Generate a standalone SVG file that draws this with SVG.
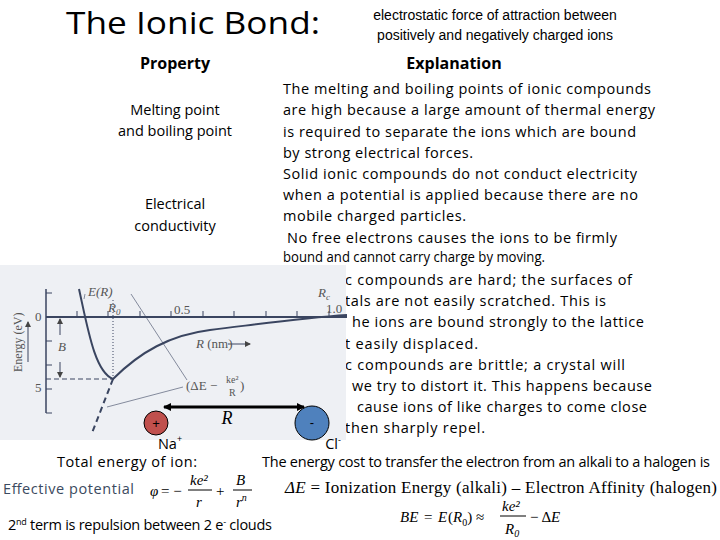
<svg xmlns="http://www.w3.org/2000/svg" width="720" height="540" viewBox="0 0 720 540">
<defs>
<marker id="ah" markerWidth="8" markerHeight="8" refX="7" refY="4" orient="auto-start-reverse" markerUnits="userSpaceOnUse"><path d="M0,0 L8,4 L0,8 z" fill="#000"/></marker>
<marker id="sa" markerWidth="6" markerHeight="6" refX="5" refY="3" orient="auto" markerUnits="userSpaceOnUse"><path d="M0,0 L6,3 L0,6 z" fill="#444"/></marker>
<style>
.b{font-family:"Open Sans","Liberation Sans",sans-serif;font-size:14.5px;fill:#000}
.h{font-family:"Open Sans","Liberation Sans",sans-serif;font-size:16px;font-weight:bold;text-anchor:middle}
.c{text-anchor:middle}
.t{font-family:"Liberation Serif",serif;fill:#000}
.g{font-family:"Liberation Serif",serif;font-size:13px;fill:#555}
</style>
</defs>
<rect width="720" height="540" fill="#fff"/>
<g id="title"><text x="66" y="34" font-family="Open Sans, Liberation Sans, sans-serif" font-size="31" textLength="254" lengthAdjust="spacingAndGlyphs">The Ionic Bond:</text></g>
<g id="definition" font-family="Liberation Sans, sans-serif" font-size="14" text-anchor="middle">
<text x="495" y="20">electrostatic force of attraction between</text>
<text x="495" y="40">positively and negatively charged ions</text></g>
<g id="headers"><text class="h" x="175" y="69">Property</text><text class="h" x="454" y="69">Explanation</text></g>
<g id="props" class="b">
<text class="c" x="175" y="115">Melting point</text><text class="c" x="175" y="136">and boiling point</text>
<text class="c" x="175" y="209">Electrical</text><text class="c" x="175" y="231">conductivity</text></g>
<g id="explanation" class="b">
<text x="283" y="94" textLength="368">The melting and boiling points of ionic compounds</text>
<text x="283" y="115" textLength="372">are high because a large amount of thermal energy</text>
<text x="283" y="137" textLength="353">is required to separate the ions which are bound</text>
<text x="283" y="158" textLength="190">by strong electrical forces.</text>
<text x="283" y="179" textLength="354">Solid ionic compounds do not conduct electricity</text>
<text x="283" y="200" textLength="355">when a potential is applied because there are no</text>
<text x="283" y="221" textLength="183">mobile charged particles.</text>
<text x="287" y="243" textLength="330">No free electrons causes the ions to be firmly</text>
<text x="283" y="262" textLength="262" lengthAdjust="spacingAndGlyphs" font-size="14">bound and cannot carry charge by moving.</text>
<text x="345" y="285" textLength="287">c compounds are hard; the surfaces of</text>
<text x="345" y="306" textLength="261">tals are not easily scratched. This is</text>
<text x="352" y="327" textLength="292">he ions are bound strongly to the lattice</text>
<text x="345" y="349" textLength="133">t easily displaced.</text>
<text x="345" y="370" textLength="280">c compounds are brittle; a crystal will</text>
<text x="352" y="391" textLength="300">we try to distort it. This happens because</text>
<text x="357" y="412" textLength="290">cause ions of like charges to come close</text>
<text x="345" y="433" textLength="140">then sharply repel.</text></g>
<g id="graph">
<rect x="0" y="265" width="346" height="175" fill="#eef0f4"/>
<g stroke="#3a4560" fill="none">
<line x1="46" y1="317" x2="347" y2="317" stroke-width="2"/>
<line x1="46" y1="289" x2="46" y2="413" stroke-width="1.5"/>
<g stroke-width="1"><line x1="46" y1="293" x2="52" y2="293"/><line x1="46" y1="341" x2="52" y2="341"/><line x1="46" y1="365" x2="52" y2="365"/><line x1="46" y1="389" x2="52" y2="389"/><line x1="46" y1="413" x2="52" y2="413"/>
<line x1="77" y1="317" x2="77" y2="311"/><line x1="108" y1="317" x2="108" y2="311"/><line x1="140" y1="317" x2="140" y2="311"/><line x1="171" y1="317" x2="171" y2="311"/><line x1="203" y1="317" x2="203" y2="311"/><line x1="234" y1="317" x2="234" y2="311"/><line x1="266" y1="317" x2="266" y2="311"/><line x1="297" y1="317" x2="297" y2="311"/><line x1="329" y1="317" x2="329" y2="311"/></g>
<path d="M79,289 C88,330 95,372 113,379 C140,352 170,335 210,330 C260,324 300,318 347,315" stroke-width="2"/>
<path d="M113,379 L92,433" stroke-width="2" stroke-dasharray="6,4"/>
<line x1="46" y1="379" x2="113" y2="379" stroke-dasharray="5,3"/>
<line x1="113" y1="300" x2="113" y2="379" stroke-dasharray="1,2"/>
<line x1="28" y1="362" x2="28" y2="322" marker-end="url(#sa)"/>
<line x1="60" y1="335" x2="60" y2="319" marker-end="url(#sa)"/>
<line x1="60" y1="362" x2="60" y2="377" marker-end="url(#sa)"/>
<line x1="228" y1="344" x2="250" y2="344" marker-end="url(#sa)"/>
<g stroke-width="0.6"><line x1="85" y1="294" x2="84" y2="299"/><line x1="131" y1="294" x2="187" y2="380"/><line x1="183" y1="387" x2="107" y2="407"/></g>
</g>
<g class="g">
<text x="88" y="296" font-style="italic">E(R)</text><text x="108" y="312" font-style="italic">R<tspan font-size="9" dy="3">0</tspan></text>
<text x="35" y="321">0</text><text x="35" y="392">5</text>
<text x="174" y="314">0.5</text><text x="326" y="313">1.0</text>
<text x="318" y="297" font-style="italic">R<tspan font-size="9" dy="3">c</tspan></text>
<text x="58" y="351" font-style="italic">B</text>
<text x="196" y="348"><tspan font-style="italic">R</tspan> (nm)</text>
<text x="186" y="390">(ΔE −</text><text x="226" y="383" font-size="10">ke²</text><text x="229" y="396" font-size="10">R</text><text x="240" y="390">)</text>
<text transform="translate(22,372) rotate(-90)" font-size="12">Energy (eV)</text>
</g>
</g>
<g id="connectors"><line x1="164" y1="407" x2="304" y2="407" stroke="#000" stroke-width="3" marker-start="url(#ah)" marker-end="url(#ah)"/></g>
<g id="na"><circle cx="156" cy="423" r="12" fill="#c0504d" stroke="#000" stroke-width="1"/><text x="156" y="428" font-family="Liberation Sans" font-size="13" text-anchor="middle">+</text>
<text x="170" y="449" class="b" text-anchor="middle">Na<tspan font-size="9" dy="-7">+</tspan></text></g>
<g id="cl"><circle cx="312" cy="423" r="17" fill="#4f81bd" stroke="#000" stroke-width="1"/><text x="312" y="427" font-family="Liberation Sans" font-size="13" text-anchor="middle">-</text>
<text x="333" y="449" class="b" font-size="13" text-anchor="middle">Cl<tspan font-size="9" dy="-6">-</tspan></text></g>
<text x="227" y="424" class="t" font-size="18" font-style="italic" text-anchor="middle">R</text>
<g id="bottom">
<text x="57" y="467" class="b" font-size="15" textLength="140">Total energy of ion:</text>
<text x="262" y="467" class="b" font-size="13" textLength="448">The energy cost to transfer the electron from an alkali to a halogen is</text>
<text x="3" y="494" class="b" style="fill:#3b4a60" textLength="131">Effective potential</text>
<g class="t" font-size="15"><text x="150" y="496" font-style="italic">φ</text><text x="161" y="496">= −</text>
<text x="190" y="485" font-style="italic">ke²</text><line x1="188" y1="490" x2="212" y2="490" stroke="#000"/><text x="196" y="507" font-style="italic">r</text>
<text x="216" y="496">+</text><text x="236" y="485" font-style="italic">B</text><line x1="233" y1="490" x2="252" y2="490" stroke="#000"/><text x="236" y="507" font-style="italic">r<tspan font-size="10" dy="-6">n</tspan></text></g>
<text x="8" y="530" class="b" font-size="13" textLength="264">2<tspan font-size="9" dy="-5">nd</tspan><tspan dy="5"> term is repulsion between 2 e</tspan><tspan font-size="9" dy="-5">-</tspan><tspan dy="5"> clouds</tspan></text>
<text x="285" y="493" class="t" font-size="17" textLength="432"><tspan font-style="italic">ΔE</tspan> = Ionization Energy (alkali) – Electron Affinity (halogen)</text>
<g class="t" font-size="15"><text x="400" y="522" font-style="italic">BE</text><text x="424" y="522">=</text><text x="438" y="522" font-style="italic">E</text><text x="448" y="522">(<tspan font-style="italic">R</tspan><tspan font-size="10" dy="4">0</tspan><tspan dy="-4">) ≈</tspan></text>
<text x="502" y="511" font-style="italic">ke²</text><line x1="500" y1="516" x2="526" y2="516" stroke="#000"/><text x="505" y="534" font-style="italic">R<tspan font-size="10" dy="3">0</tspan></text>
<text x="530" y="522">− Δ<tspan font-style="italic">E</tspan></text></g>
</g>
</svg>
